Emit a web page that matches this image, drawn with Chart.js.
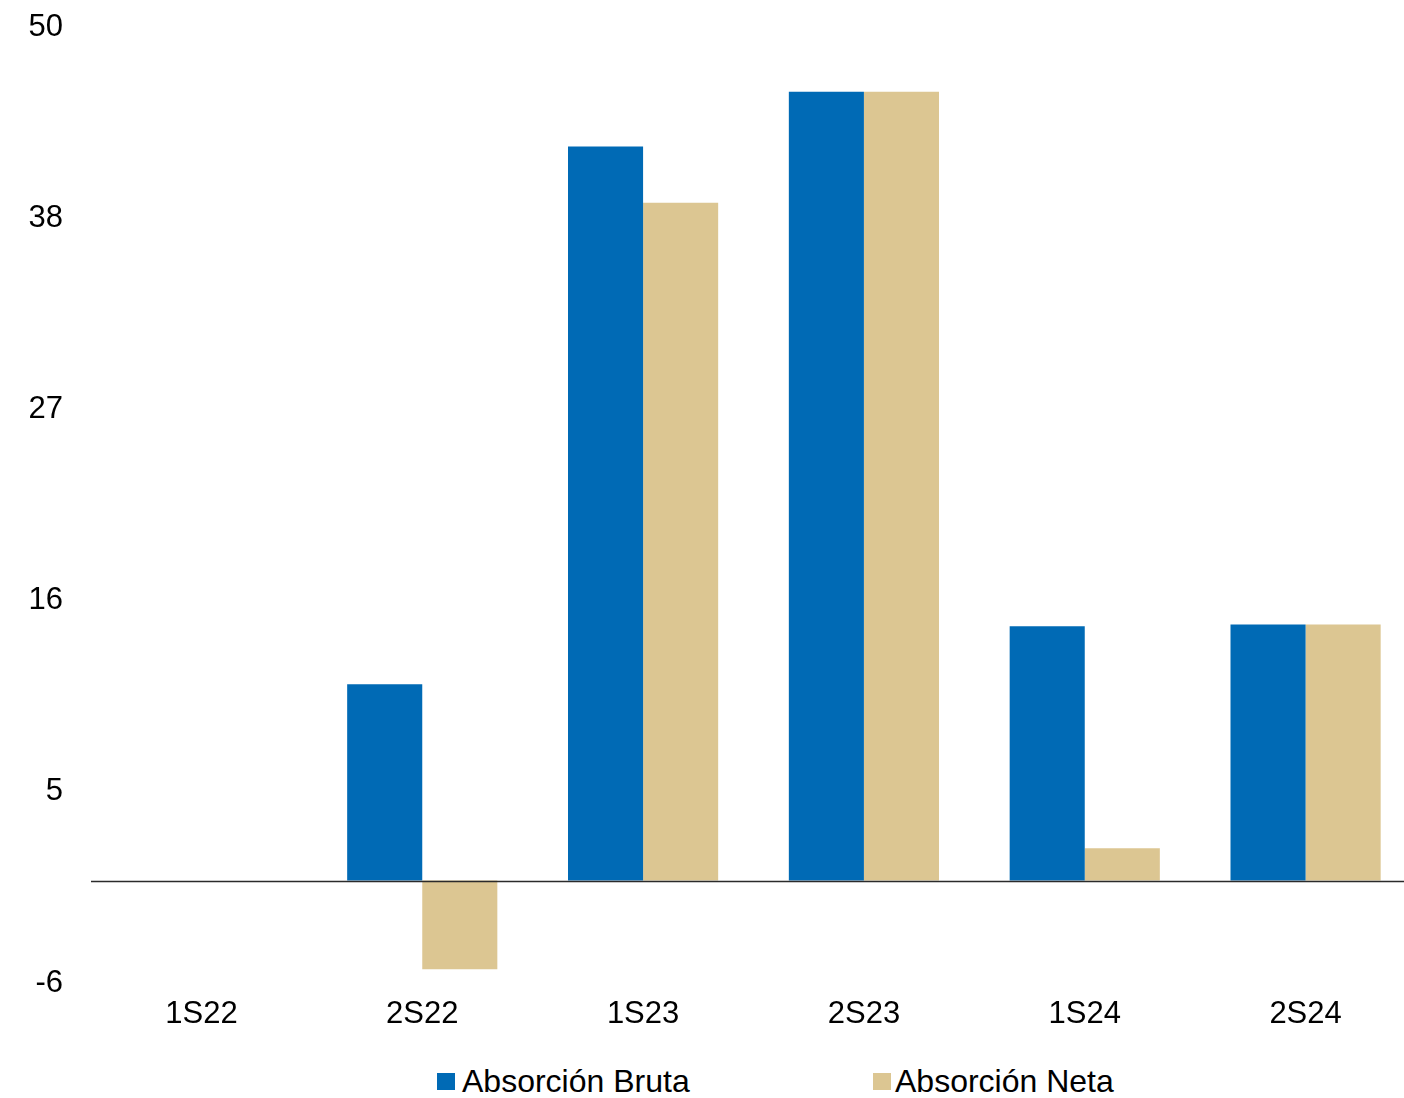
<!DOCTYPE html>
<html>
<head>
<meta charset="utf-8">
<script src="https://cdn.jsdelivr.net/npm/chart.js@4.4.1/dist/chart.umd.min.js"></script>
<style>
  html, body { margin: 0; padding: 0; background: #fff; overflow: hidden; }
  #wrap { position: relative; width: 1404px; height: 1098px; overflow: hidden; }
  #box { position: absolute; left: 0; top: 0; width: 1416px; height: 1040px; }
  .leg { position: absolute; font-family: "Liberation Sans", Arial, sans-serif; font-size: 32px; line-height: 32px; color: #000; white-space: nowrap; }
  .sw { position: absolute; width: 18px; height: 17px; }
</style>
</head>
<body>
<div id="wrap">
  <div id="box"><canvas id="c"></canvas></div>
  <div class="sw" id="sw0" style="left:437px; top:1073px;"></div>
  <div class="leg" id="lg0" style="left:462px; top:1065px;"></div>
  <div class="sw" id="sw1" style="left:873px; top:1073px;"></div>
  <div class="leg" id="lg1" style="left:895px; top:1065px;"></div>
</div>
<script>
// Half-year periods and absorption series
const categories = ['1S22', '2S22', '1S23', '2S23', '1S24', '2S24'];
const absorcionBruta = [0, 11.5, 43.0, 46.2, 14.9, 15.0];
const absorcionNeta = [0, -5.2, 39.7, 46.2, 1.9, 15.0];
const seriesNames = ['Absorción Bruta', 'Absorción Neta'];
const seriesColors = ['#006AB5', '#DCC692'];

// Value axis: five equal steps between min and max, labels shown truncated
const yMin = -6;
const yMax = 50;
const tickLabels = ['-6', '5', '16', '27', '38', '50'];

const FONT = '"Liberation Sans", Arial, sans-serif';

// Horizontal baseline at zero, drawn over the bars
const zeroLine = {
  id: 'zeroLine',
  afterDatasetsDraw(chart) {
    const { ctx, chartArea, scales } = chart;
    const y = Math.round(scales.y.getPixelForValue(0)) + 0.5;
    ctx.save();
    ctx.strokeStyle = '#2b2b2b';
    ctx.lineWidth = 1.3;
    ctx.beginPath();
    ctx.moveTo(chartArea.left, y);
    ctx.lineTo(chartArea.right, y);
    ctx.stroke();
    ctx.restore();
  }
};

new Chart(document.getElementById('c'), {
  type: 'bar',
  data: {
    labels: categories,
    datasets: [
      { label: seriesNames[0], data: absorcionBruta, backgroundColor: seriesColors[0] },
      { label: seriesNames[1], data: absorcionNeta, backgroundColor: seriesColors[1] }
    ]
  },
  options: {
    responsive: true,
    maintainAspectRatio: false,
    animation: false,
    layout: { padding: { top: 27, right: 0, bottom: 0, left: 0 } },
    datasets: { bar: { categoryPercentage: 0.68, barPercentage: 1.0, borderWidth: 0 } },
    plugins: { legend: { display: false }, tooltip: { enabled: false } },
    scales: {
      x: {
        grid: { display: false },
        border: { display: false },
        ticks: { color: '#000', font: { family: FONT, size: 31 }, padding: 5, maxRotation: 0 },
        afterFit(s) { s.height = 57; s.paddingLeft = 0; s.paddingRight = 0; }
      },
      y: {
        min: yMin,
        max: yMax,
        grid: { display: false },
        border: { display: false },
        afterBuildTicks(s) {
          const step = (yMax - yMin) / (tickLabels.length - 1);
          s.ticks = tickLabels.map((_, i) => ({ value: yMin + i * step }));
        },
        ticks: {
          color: '#000',
          font: { family: FONT, size: 31 },
          padding: 20,
          callback: (v, i) => tickLabels[i]
        },
        afterFit(s) { s.width = 91; s.paddingTop = 0; s.paddingBottom = 0; }
      }
    }
  },
  plugins: [zeroLine]
});

// Legend entries
seriesNames.forEach((n, i) => {
  document.getElementById('lg' + i).textContent = n;
  document.getElementById('sw' + i).style.background = seriesColors[i];
});
</script>
</body>
</html>
